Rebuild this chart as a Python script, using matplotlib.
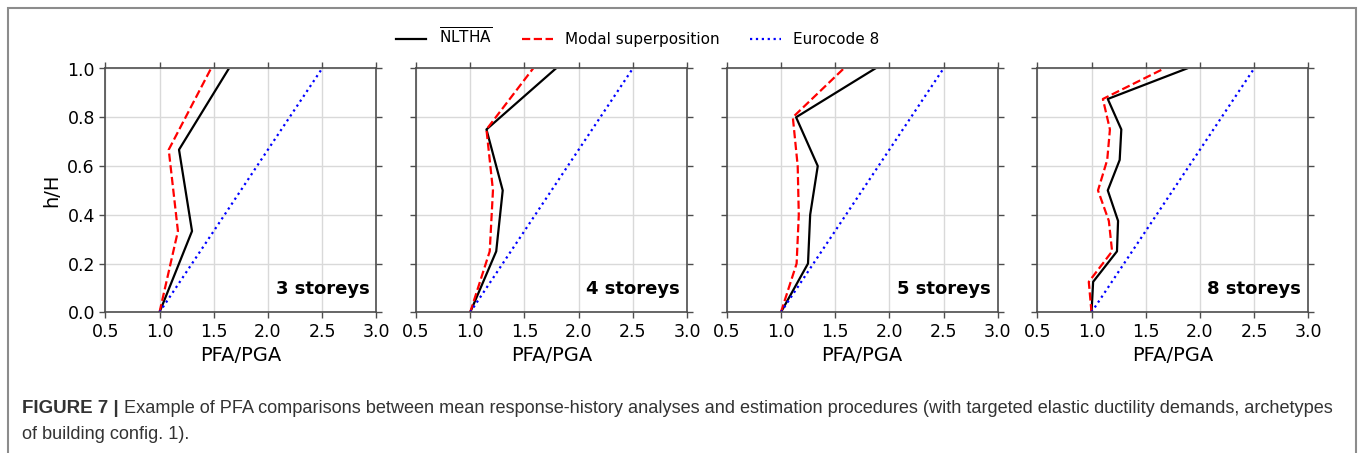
import matplotlib
matplotlib.use("Agg")
import matplotlib.pyplot as plt
from matplotlib.patches import Rectangle

# storey levels (h/H) for each archetype
titles = ["3 storeys", "4 storeys", "5 storeys", "8 storeys"]
h3 = [0.0, 0.333, 0.667, 1.0]
h4 = [0.0, 0.25, 0.5, 0.75, 1.0]
h5 = [0.0, 0.2, 0.4, 0.6, 0.8, 1.0]
h8 = [0.0, 0.125, 0.25, 0.375, 0.5, 0.625, 0.75, 0.875, 1.0]

# mean NLTHA PFA/PGA
nltha3 = [1.0, 1.30, 1.18, 1.64]
nltha4 = [1.0, 1.24, 1.30, 1.15, 1.79]
nltha5 = [1.0, 1.25, 1.27, 1.34, 1.14, 1.87]
nltha8 = [1.0, 1.015, 1.235, 1.245, 1.15, 1.26, 1.275, 1.15, 1.88]

# modal superposition
modal3 = [1.0, 1.17, 1.085, 1.475]
modal4 = [1.0, 1.18, 1.21, 1.15, 1.58]
modal5 = [1.0, 1.145, 1.165, 1.155, 1.11, 1.58]
modal8 = [1.0, 0.975, 1.19, 1.16, 1.06, 1.145, 1.17, 1.105, 1.67]

# Eurocode 8
ec3 = [1.0, 1.5, 2.0, 2.5]
ec4 = [1.0, 1.375, 1.75, 2.125, 2.5]
ec5 = [1.0, 1.3, 1.6, 1.9, 2.2, 2.5]
ec8 = [1.0, 1.1875, 1.375, 1.5625, 1.75, 1.9375, 2.125, 2.3125, 2.5]

heights = [h3, h4, h5, h8]
nltha = [nltha3, nltha4, nltha5, nltha8]
modal = [modal3, modal4, modal5, modal8]
eurocode = [ec3, ec4, ec5, ec8]

W, H = 1358, 453
fig = plt.figure(figsize=(W / 100, H / 100), dpi=100)

spine_col = "#4d4d4d"
lefts = [105.3, 416.0, 726.7, 1037.3]
ax_w, ax_top, ax_bot = 271.0, 68.5, 312.3

for i in range(4):
    ax = fig.add_axes([lefts[i] / W, 1 - ax_bot / H, ax_w / W, (ax_bot - ax_top) / H])
    l1, = ax.plot(nltha[i], heights[i], color="black", lw=1.6, ls="-")
    l2, = ax.plot(modal[i], heights[i], color="red", lw=1.6, ls="--")
    l3, = ax.plot(eurocode[i], heights[i], color="blue", lw=1.6, ls=":")
    ax.set_xlim(0.5, 3.0)
    ax.set_ylim(0.0, 1.0)
    ax.set_xticks([0.5, 1.0, 1.5, 2.0, 2.5, 3.0])
    ax.set_yticks([0.0, 0.2, 0.4, 0.6, 0.8, 1.0])
    ax.grid(True, color="#d9d9d9", lw=1)
    ax.set_axisbelow(True)
    ax.tick_params(direction="out", length=4, width=1, color=spine_col,
                   labelsize=12.5, top=True, right=True)
    for s in ax.spines.values():
        s.set_color(spine_col)
        s.set_linewidth(1.2)
    ax.set_xlabel("PFA/PGA", fontsize=14)
    if i == 0:
        ax.set_ylabel("h/H", fontsize=14)
    else:
        ax.set_yticklabels([])
    ax.text(0.974, 0.075, titles[i], transform=ax.transAxes, ha="right",
            va="baseline", fontsize=13, fontweight="bold")

fig.legend([l1, l2, l3], [r"$\overline{\mathrm{NLTHA}}$", "Modal superposition", "Eurocode 8"],
           loc="center", bbox_to_anchor=(637.5 / W, 1 - 37 / H), ncol=3,
           frameon=False, fontsize=11)

# outer frame
fig.patches.append(Rectangle((7.5 / W, -0.05), (1356 - 7.5) / W, 1.05 - 8.5 / H,
                             transform=fig.transFigure, fill=False,
                             edgecolor="#8c8c8c", lw=1.5))

cap_col = "#333333"
cap_font = "Liberation Sans"
bold = fig.text(22 / W, 1 - 413 / H, "FIGURE 7 |", fontsize=13.5, fontweight="bold",
                family=cap_font, color=cap_col, va="baseline")
fig.canvas.draw()
ext = bold.get_window_extent()
fig.text((ext.x1 + 5) / W, 1 - 413 / H,
         "Example of PFA comparisons between mean response-history analyses and estimation "
         "procedures (with targeted elastic ductility demands, archetypes",
         fontsize=13.05, family=cap_font, color=cap_col, va="baseline")
fig.text(22 / W, 1 - 439 / H, "of building config. 1).", fontsize=13.05,
         family=cap_font, color=cap_col, va="baseline")

fig.savefig("out.png", dpi=100)
